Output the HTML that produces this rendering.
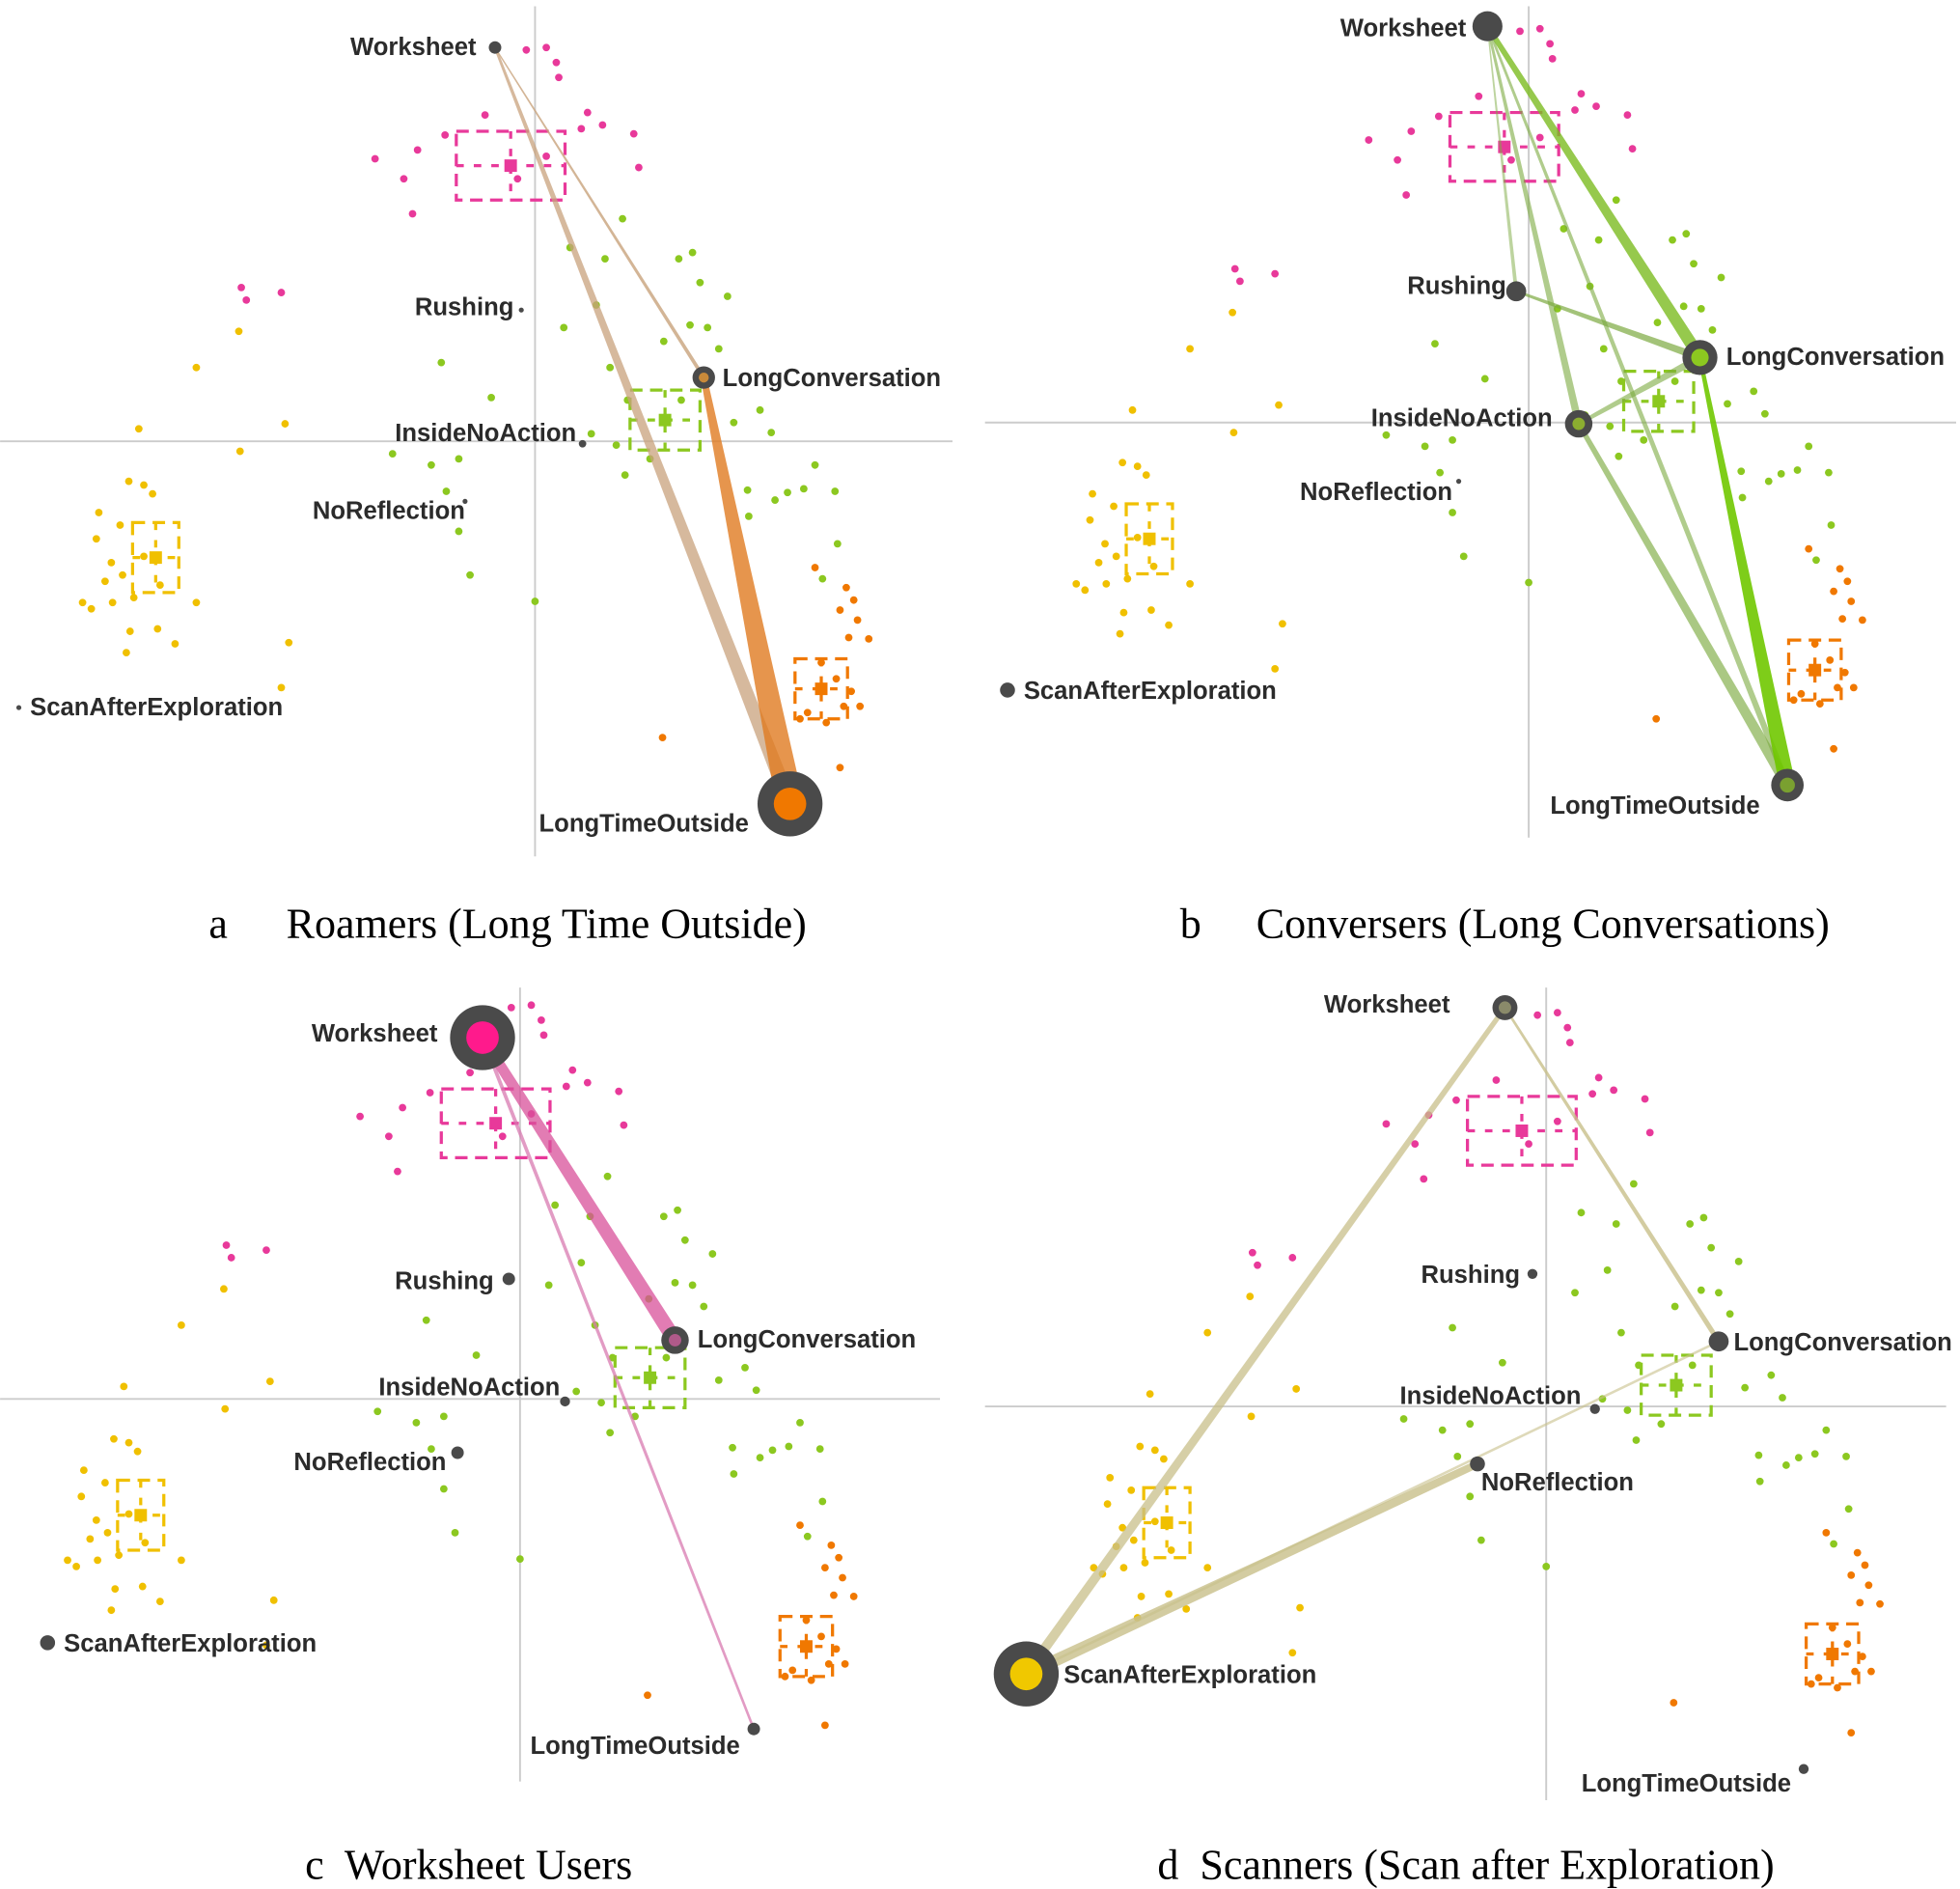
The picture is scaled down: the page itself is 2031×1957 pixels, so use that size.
<!DOCTYPE html>
<html><head><meta charset="utf-8">
<style>
html,body{margin:0;padding:0;background:#fff;}
svg{display:block;}
.lbl{font-family:"Liberation Sans",sans-serif;font-weight:bold;font-size:19.8px;fill:#2b2b2b;}
.cap{font-family:"Liberation Serif",serif;font-size:34px;fill:#000;}
</style></head>
<body>
<svg id="chart" width="2031" height="1957" viewBox="0 0 1568 1511" xmlns="http://www.w3.org/2000/svg">
<text class="cap" x="167" y="750">a</text>
<text class="cap" x="229" y="750">Roamers (Long Time Outside)</text>
<text class="cap" x="944" y="750">b</text>
<text class="cap" x="1005" y="750">Conversers (Long Conversations)</text>
<text class="cap" x="244" y="1503" xml:space="preserve">c  Worksheet Users</text>
<text class="cap" x="926" y="1503" xml:space="preserve">d  Scanners (Scan after Exploration)</text>
</svg>
<script>
const pinkPts=[[-7,-313],[9,-315],[17,-303],[19,-291],[42,-263],[37,-250],[54,-253],[79,-246],[83,-219],[-40,-261],[-72,-245],[-94,-233],[-128,-226],[-105,-210],[-98,-182],[-14,-210],[9,-228],[-235,-123],[-231,-113],[-203,-119]];
const yellowPts=[[-237,-88],[-271,-59],[-200,-14],[-317,-10],[-236,8],[-325,32],[-313,35],[-306,42],[-349,57],[-332,67],[-351,78],[-339,97],[-330,107],[-344,112],[-321,125],[-362,129],[-355,134],[-338,129],[-271,129],[-324,152],[-302,150],[-288,162],[-327,169],[-197,161],[-203,197],[-300,115],[-313,92]];
const greenPts=[[28,-155],[56,-146],[70,-178],[115,-146],[126,-151],[132,-127],[154,-116],[49,-109],[23,-91],[-75,-63],[60,-59],[103,-80],[124,-93],[138,-91],[147,-74],[-35,-35],[74,-33],[117,-33],[159,-15],[180,-25],[189,-7],[45,-6],[65,3],[-114,10],[-83,19],[-61,14],[72,27],[92,14],[-71,40],[170,39],[224,19],[192,47],[202,41],[215,38],[240,40],[171,60],[-61,72],[-52,107],[0,128],[242,82],[230,110]];
const orangePts=[[224,101],[249,117],[255,127],[244,135],[258,143],[251,157],[267,158],[229,177],[241,190],[253,200],[260,212],[247,212],[218,217],[233,225],[212,222],[102,237],[244,261]];
const clusterBoxes=[["pink",-63,-248,87,55],["yellow",-322,65,37,56],["green",76,-41,56,48],["orange",208,174,42,48]];
const colors={pink:"#e8399a",yellow:"#f0c000",green:"#8cc820",orange:"#f07800"};
const panelNames=["a","b","c","d"];
const panelCenters=[[428,353],[1223,338],[416,1119],[1237,1125]];
const panelAxes=[[5,685,0,762],[5,670,788,1565],[790,1425,0,752],[790,1440,788,1557]];
const nodeNames=["Worksheet","Rushing","LongConversation","InsideNoAction","NoReflection","ScanAfterExploration","LongTimeOutside"];
const nodesA=[[396,38,5,0,"",381,44,"end"],[417,248,2,0,"",411,252,"end"],[563,302,9,4,"#c98a3a",578,309,"start"],[466,355,3,0,"",461,353,"end"],[372,401,2,0,"",372,415,"end"],[15,566,2,0,"",24,572,"start"],[632,643,26,13,"#f07800",599,665,"end"]];
const nodesB=[[1190,21,12,0,"",1173,29,"end"],[1213,233,8,0,"",1205,235,"end"],[1360,286,14,7,"#8cc820",1381,292,"start"],[1263,339,11,5,"#8cae30",1242,341,"end"],[1167,385,2,0,"",1162,400,"end"],[806,552,6,0,"",819,559,"start"],[1430,628,13,6,"#7aa030",1408,651,"end"]];
const nodesC=[[386,830,26,13,"#ff1a8c",350,833,"end"],[407,1023,5,0,"",395,1031,"end"],[540,1072,11,5,"#b05a8a",558,1078,"start"],[452,1121,4,0,"",448,1116,"end"],[366,1162,5,0,"",357,1176,"end"],[38,1314,6,0,"",51,1321,"start"],[603,1383,5,0,"",592,1403,"end"]];
const nodesD=[[1204,806,10,5,"#8a8a6a",1160,810,"end"],[1226,1019,4,0,"",1216,1026,"end"],[1375,1073,8,0,"",1387,1080,"start"],[1276,1127,4,0,"",1265,1123,"end"],[1182,1171,6,0,"",1185,1192,"start"],[821,1339,26,13,"#f0c800",851,1346,"start"],[1443,1415,4,0,"",1433,1433,"end"]];
const panelNodes=[nodesA,nodesB,nodesC,nodesD];
const edgesA=[[0,6,2,12,"#c8a27c",0.75],[0,2,1,3,"#c8a27c",0.8],[2,6,5,22,"#e07a20",0.8]];
const edgesB=[[0,2,4,10,"#7cbc20",0.8],[0,3,2,6,"#7caa40",0.6],[0,6,2,5,"#7caa40",0.6],[1,2,2,6,"#7caa40",0.7],[3,2,3,6,"#7caa40",0.6],[3,6,4,9,"#7caa40",0.65],[2,6,3,13,"#70c800",0.9],[0,1,1,3,"#7caa40",0.5]];
const edgesC=[[0,2,8,12,"#d8509a",0.75],[0,6,3,2,"#d87ab0",0.75]];
const edgesD=[[5,0,8,4,"#c8bf8a",0.75],[0,2,2,4,"#c8bf8a",0.8],[5,4,10,6,"#c8bf8a",0.8],[5,2,2,2,"#c8bf8a",0.6]];
const panelEdges=[edgesA,edgesB,edgesC,edgesD];

const NS="http://www.w3.org/2000/svg";
const svg=document.getElementById("chart");
function mk(tag,attrs,parent){const e=document.createElementNS(NS,tag);for(const k in attrs)e.setAttribute(k,attrs[k]);(parent||svg).appendChild(e);return e;}
function px(p,dx){return panelCenters[p][0]+dx;}
function py(p,dy){return panelCenters[p][1]+dy;}

for(let p=0;p<4;p++){
  const g=mk("g",{});
  
  
  const ax=panelAxes[p],c=panelCenters[p];
  const vl=mk("line",{x1:c[0],x2:c[0],y1:ax[0],y2:ax[1],stroke:"#cccccc","stroke-width":1.5},g);
  
  
  const hl=mk("line",{x1:ax[2],x2:ax[3],y1:c[1],y2:c[1],stroke:"#cccccc","stroke-width":1.5},g);
  
  
  const sets=[["pink",pinkPts],["yellow",yellowPts],["green",greenPts],["orange",orangePts]];
  for(const [cn,pts] of sets){
    for(const pt of pts){
      const d=mk("circle",{cx:px(p,pt[0]),cy:py(p,pt[1]),r:3,fill:colors[cn]},g);
      
      
    }
  }
  for(const b of clusterBoxes){
    const col=colors[b[0]];
    const x=px(p,b[1]),y=py(p,b[2]),w=b[3],h=b[4];
    const r=mk("rect",{x:x,y:y,width:w,height:h,fill:"none",stroke:col,"stroke-width":2.5,"stroke-dasharray":"10,6"},g);
    
    
    mk("line",{x1:x,x2:x+w,y1:y+h/2,y2:y+h/2,stroke:col,"stroke-width":2.5,"stroke-dasharray":"6,8"},g);
    mk("line",{x1:x+w/2,x2:x+w/2,y1:y,y2:y+h,stroke:col,"stroke-width":2.5,"stroke-dasharray":"6,8"},g);
    const s=mk("rect",{x:x+w/2-5,y:y+h/2-5,width:10,height:10,fill:col},g);
    
    
  }
  const nodes=panelNodes[p];
  for(const e of panelEdges[p]){
    const a=nodes[e[0]],b=nodes[e[1]];
    const dx=b[0]-a[0],dy=b[1]-a[1],L=Math.hypot(dx,dy),nx=-dy/L,ny=dx/L;
    const pts=[[a[0]+nx*e[2]/2,a[1]+ny*e[2]/2],[b[0]+nx*e[3]/2,b[1]+ny*e[3]/2],[b[0]-nx*e[3]/2,b[1]-ny*e[3]/2],[a[0]-nx*e[2]/2,a[1]-ny*e[2]/2]];
    const pg=mk("polygon",{points:pts.map(q=>q.join(",")).join(" "),fill:e[4],"fill-opacity":e[5]},g);
    
    
  }
  nodes.forEach((n,i)=>{
    const c1=mk("circle",{cx:n[0],cy:n[1],r:n[2],fill:"#4a4a4a"},g);
    
    
    if(n[3]>0){mk("circle",{cx:n[0],cy:n[1],r:n[3],fill:n[4]},g);}
    const t=mk("text",{x:n[5],y:n[6],"text-anchor":n[7],class:"lbl"},g);
    t.textContent=nodeNames[i];
    
    
  });
}
</script>
</body></html>
